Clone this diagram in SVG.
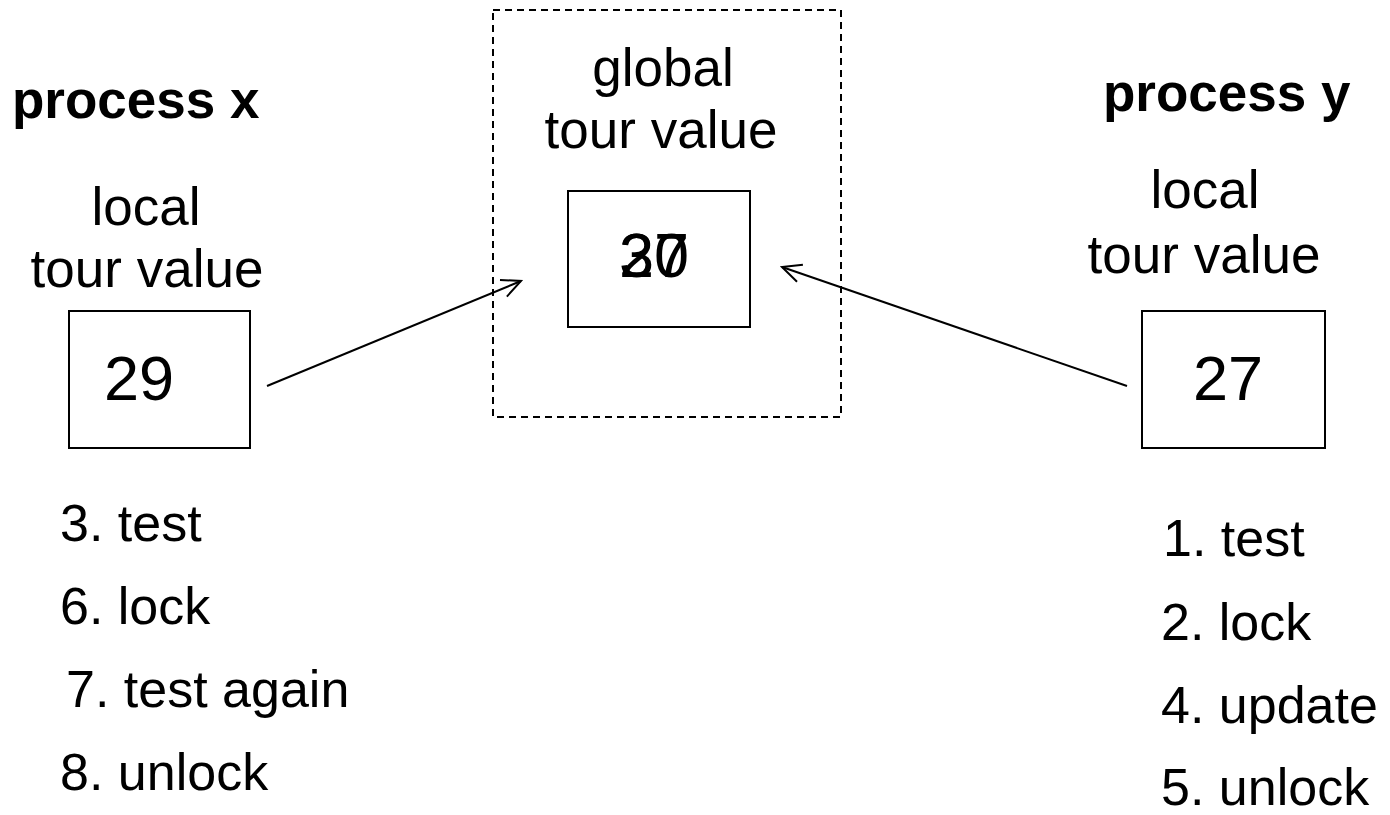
<svg xmlns="http://www.w3.org/2000/svg" width="1390" height="815" viewBox="0 0 1390 815">
<style>
text{font-family:"Liberation Sans",Arial,sans-serif;fill:#000}
.lbl{font-size:53px}
.hd{font-size:53px;font-weight:bold}
.num{font-size:63px}
.lst{font-size:52px}
.box{fill:#fff;stroke:#000;stroke-width:2}
.dash{fill:none;stroke:#000;stroke-width:2;stroke-dasharray:7,5}
.conn{stroke:#000;stroke-width:2;fill:none}
</style>
<defs>
<marker id="arr" viewBox="0 0 24 24" refX="22" refY="12" markerWidth="24" markerHeight="24" markerUnits="userSpaceOnUse" orient="auto">
<path d="M3,3 L22,12 L3,21" fill="none" stroke="#000" stroke-width="2"/>
</marker>
</defs>
<g id="global">
<rect class="dash" x="493" y="10" width="348" height="407"/>
<text class="lbl" x="663" y="86" text-anchor="middle">global</text>
<text class="lbl" x="661" y="148" text-anchor="middle">tour value</text>
<rect class="box" x="568" y="191" width="182" height="136"/>
<text class="num" x="654" y="277" text-anchor="middle">30</text>
<text class="num" x="654" y="277" text-anchor="middle">27</text>
</g>
<g id="process-x">
<text class="hd" x="12" y="118">process x</text>
<text class="lbl" x="146" y="225" text-anchor="middle">local</text>
<text class="lbl" x="147" y="287" text-anchor="middle">tour value</text>
<rect class="box" x="69" y="311" width="181" height="137"/>
<text class="num" x="139" y="400" text-anchor="middle">29</text>
<text class="lst" x="60" y="541">3. test</text>
<text class="lst" x="60" y="624">6. lock</text>
<text class="lst" x="66" y="707">7. test again</text>
<text class="lst" x="60" y="790">8. unlock</text>
</g>
<g id="process-y">
<text class="hd" x="1103" y="111">process y</text>
<text class="lbl" x="1205" y="208" text-anchor="middle">local</text>
<text class="lbl" x="1204" y="273" text-anchor="middle">tour value</text>
<rect class="box" x="1142" y="311" width="183" height="137"/>
<text class="num" x="1228" y="400" text-anchor="middle">27</text>
<text class="lst" x="1163" y="556">1. test</text>
<text class="lst" x="1161" y="640">2. lock</text>
<text class="lst" x="1161" y="723">4. update</text>
<text class="lst" x="1161" y="805">5. unlock</text>
</g>
<g id="connectors">
<line class="conn" x1="267" y1="386" x2="521" y2="281" marker-end="url(#arr)"/>
<line class="conn" x1="1127" y1="386" x2="782" y2="267" marker-end="url(#arr)"/>
</g>
</svg>
